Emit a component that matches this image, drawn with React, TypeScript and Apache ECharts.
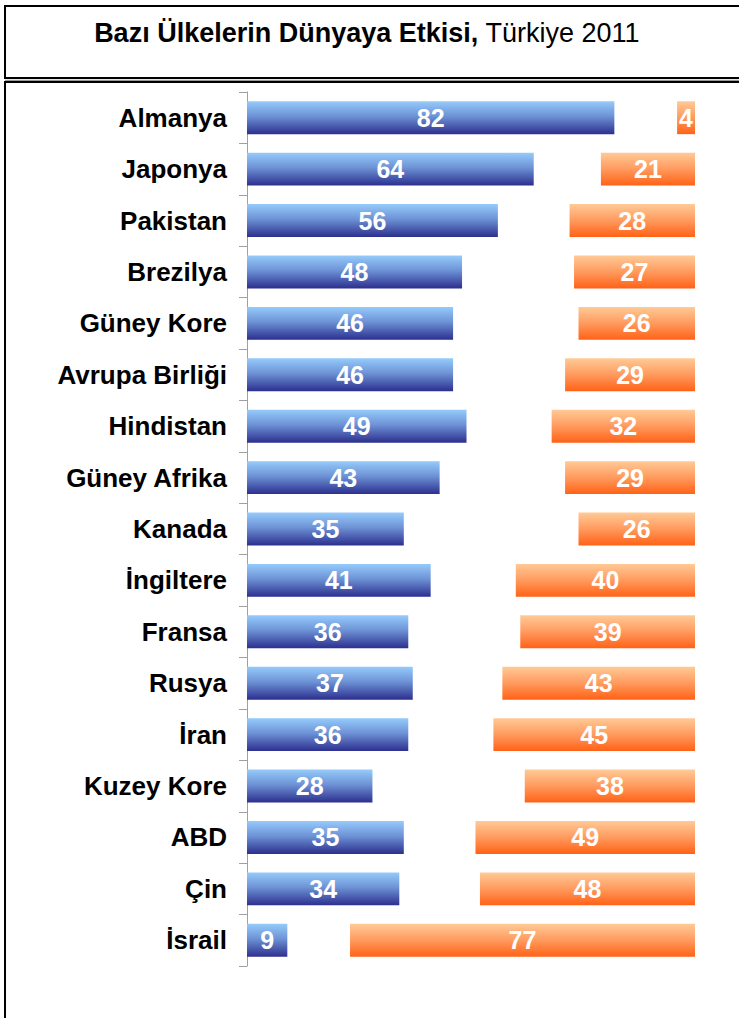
import React, { useEffect, useRef } from "react";
import * as echarts from "echarts";

const categories = [
  "Almanya", "Japonya", "Pakistan", "Brezilya", "Güney Kore", "Avrupa Birliği",
  "Hindistan", "Güney Afrika", "Kanada", "İngiltere", "Fransa", "Rusya", "İran",
  "Kuzey Kore", "ABD", "Çin", "İsrail",
];
const positiveValues = [82, 64, 56, 48, 46, 46, 49, 43, 35, 41, 36, 37, 36, 28, 35, 34, 9];
const negativeValues = [4, 21, 28, 27, 26, 29, 32, 29, 26, 40, 39, 43, 45, 38, 49, 48, 77];
const axisMax = 100;

const FONT = "Liberation Sans, Arial, Helvetica, sans-serif";

export default function App() {
  const ref = useRef<HTMLDivElement>(null);
  useEffect(() => {
    if (!ref.current) return;
    const chart = echarts.init(ref.current, null, { renderer: "svg" });
    const gapValues = positiveValues.map((b, i) => axisMax - b - negativeValues[i]);
    const blue = new echarts.graphic.LinearGradient(0, 0, 0, 1, [
      { offset: 0, color: "#95CBFB" },
      { offset: 0.45, color: "#6E93D6" },
      { offset: 1, color: "#2C2F8E" },
    ]);
    const orange = new echarts.graphic.LinearGradient(0, 0, 0, 1, [
      { offset: 0, color: "#FFCA96" },
      { offset: 0.5, color: "#FF9A5E" },
      { offset: 1, color: "#FF6216" },
    ]);
    const label = {
      show: true,
      position: "inside" as const,
      color: "#ffffff",
      fontFamily: FONT,
      fontWeight: "bold" as const,
      fontSize: 25,
    };
    chart.setOption({
      animation: false,
      backgroundColor: "#ffffff",
      grid: { left: 247, right: 44, top: 92, bottom: 52, containLabel: false },
      xAxis: {
        type: "value",
        min: 0,
        max: axisMax,
        show: false,
      },
      yAxis: {
        type: "category",
        data: categories,
        inverse: true,
        axisLine: { show: true, lineStyle: { color: "#a0a0a0", width: 1 } },
        axisTick: { show: true, length: 8, lineStyle: { color: "#a0a0a0" } },
        axisLabel: {
          margin: 20,
          color: "#000000",
          fontFamily: FONT,
          fontWeight: "bold",
          fontSize: 26,
        },
        splitLine: { show: false },
      },
      series: [
        {
          type: "bar",
          stack: "s",
          data: positiveValues,
          barCategoryGap: "36%",
          itemStyle: { color: blue },
          label,
        },
        {
          type: "bar",
          stack: "s",
          data: gapValues,
          silent: true,
          itemStyle: { color: "rgba(0,0,0,0)" },
          label: { show: false },
        },
        {
          type: "bar",
          stack: "s",
          data: negativeValues,
          itemStyle: { color: orange },
          label,
        },
      ],
      graphic: [
        {
          type: "rect",
          shape: { x: 5, y: 6, width: 800, height: 72 },
          style: { fill: "none", stroke: "#000000", lineWidth: 2 },
          silent: true,
        },
        {
          type: "line",
          shape: { x1: 5, y1: 80.5, x2: 800, y2: 80.5 },
          style: { stroke: "#999999", lineWidth: 1.5 },
          silent: true,
        },
        {
          type: "rect",
          shape: { x: 5, y: 82, width: 800, height: 1000 },
          style: { fill: "none", stroke: "#000000", lineWidth: 2 },
          silent: true,
        },
        {
          type: "text",
          x: 367,
          y: 33,
          style: {
            text: "{b|Bazı Ülkelerin Dünyaya Etkisi,}{r| Türkiye 2011}",
            align: "center",
            verticalAlign: "middle",
            rich: {
              b: {
                fontFamily: FONT,
                fontWeight: "bold",
                fontSize: 27,
                fill: "#000000",
              },
              r: {
                fontFamily: FONT,
                fontWeight: "normal",
                fontSize: 27,
                fill: "#000000",
              },
            },
          },
          silent: true,
        },
      ],
    });
    return () => chart.dispose();
  }, []);
  return (
    <div
      ref={ref}
      style={{ position: "absolute", left: 0, top: 0, width: 739, height: 1018 }}
    />
  );
}
